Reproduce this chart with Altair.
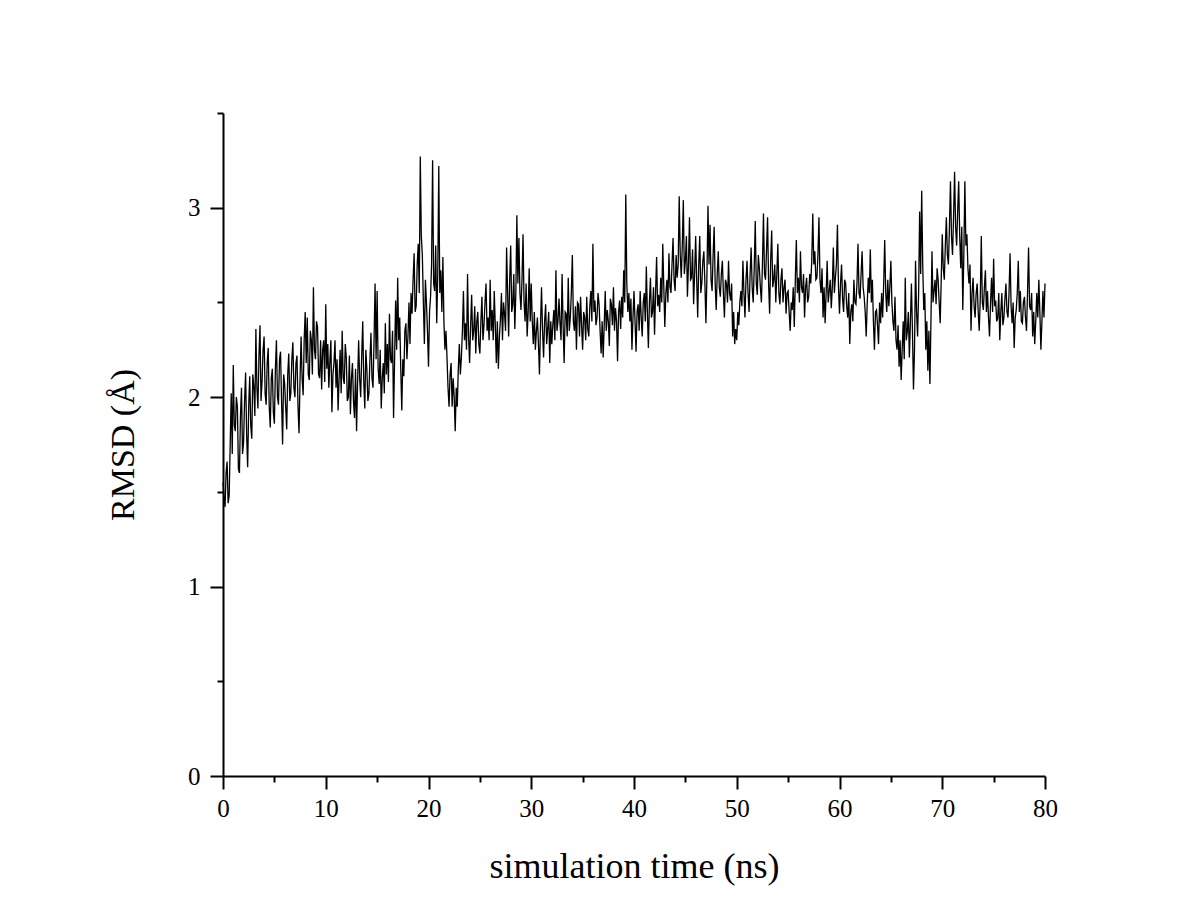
import altair as alt
import pandas as pd

# RMSD (Å), one value every 0.1 ns (one row = 1 ns)
STEP_NS = 0.1
rmsd_00_10 = [1.55, 1.47, 1.42, 1.60, 1.66, 1.44, 1.48, 1.75, 2.02, 1.70,
              2.17, 1.85, 1.82, 2.00, 1.95, 1.62, 1.60, 1.90, 2.05, 1.70,
              1.76, 1.98, 2.13, 1.80, 1.63, 1.95, 2.11, 1.85, 1.78, 2.12,
              2.06, 1.90, 2.36, 2.05, 1.94, 2.22, 2.38, 1.98, 2.08, 2.25,
              2.32, 2.02, 1.96, 2.18, 2.26, 1.95, 1.84, 2.10, 2.15, 1.92,
              1.86, 2.15, 2.30, 2.00, 1.96, 2.20, 2.24, 1.98, 1.75, 2.12,
              2.07, 1.95, 1.83, 2.12, 2.23, 1.98, 2.02, 2.20, 2.29, 2.05,
              2.00, 2.18, 2.22, 1.95, 1.81, 2.10, 2.32, 2.10, 2.01, 2.30,
              2.45, 2.18, 2.42, 2.12, 2.09, 2.35, 2.30, 2.12, 2.58, 2.25,
              2.20, 2.40, 2.37, 2.12, 2.10, 2.30, 2.04, 2.25, 2.30, 2.08]
rmsd_10_20 = [2.49, 2.15, 2.28, 2.05, 2.19, 2.30, 1.92, 2.12, 2.18, 2.30,
              2.05, 2.20, 1.93, 2.10, 2.25, 2.02, 2.35, 2.10, 2.07, 2.28,
              2.21, 1.98, 2.00, 2.22, 1.91, 2.10, 2.18, 1.98, 1.89, 2.15,
              1.82, 2.08, 2.30, 2.10, 2.00, 2.22, 2.40, 2.08, 1.94, 2.25,
              2.15, 1.98, 2.02, 2.20, 2.34, 2.10, 2.05, 2.30, 2.60, 2.20,
              2.56, 2.15, 2.07, 2.25, 1.94, 2.10, 2.18, 2.02, 2.39, 2.12,
              2.28, 2.08, 2.44, 2.20, 2.18, 2.35, 1.89, 2.20, 2.51, 2.25,
              2.63, 2.30, 2.42, 2.15, 1.93, 2.20, 2.11, 2.35, 2.39, 2.20,
              2.32, 2.50, 2.28, 2.55, 2.44, 2.62, 2.76, 2.45, 2.48, 2.70,
              2.81, 2.55, 3.27, 2.85, 2.75, 2.50, 2.28, 2.62, 2.50, 2.35]
rmsd_20_30 = [2.16, 2.45, 2.53, 2.70, 3.25, 2.60, 2.56, 2.80, 2.39, 2.65,
              3.22, 2.55, 2.67, 2.45, 2.74, 2.40, 2.25, 2.35, 2.21, 2.05,
              1.95, 2.12, 2.18, 1.95, 2.10, 2.00, 1.82, 2.05, 1.95, 2.15,
              2.28, 2.12, 2.21, 2.35, 2.56, 2.30, 2.39, 2.25, 2.65, 2.32,
              2.18, 2.38, 2.54, 2.30, 2.35, 2.48, 2.23, 2.40, 2.45, 2.28,
              2.23, 2.40, 2.53, 2.30, 2.38, 2.50, 2.60, 2.35, 2.42, 2.30,
              2.62, 2.35, 2.46, 2.30, 2.56, 2.38, 2.18, 2.40, 2.15, 2.32,
              2.41, 2.55, 2.30, 2.50, 2.44, 2.35, 2.79, 2.55, 2.32, 2.62,
              2.80, 2.45, 2.49, 2.65, 2.36, 2.55, 2.96, 2.60, 2.84, 2.55,
              2.46, 2.62, 2.86, 2.50, 2.40, 2.60, 2.32, 2.45, 2.68, 2.40]
rmsd_30_40 = [2.60, 2.40, 2.28, 2.45, 2.25, 2.35, 2.42, 2.28, 2.12, 2.38,
              2.58, 2.35, 2.21, 2.40, 2.49, 2.28, 2.36, 2.45, 2.18, 2.40,
              2.28, 2.38, 2.46, 2.30, 2.67, 2.35, 2.40, 2.52, 2.39, 2.30,
              2.65, 2.38, 2.18, 2.45, 2.44, 2.32, 2.63, 2.35, 2.42, 2.55,
              2.75, 2.40, 2.35, 2.48, 2.25, 2.50, 2.49, 2.32, 2.53, 2.38,
              2.25, 2.45, 2.42, 2.30, 2.53, 2.36, 2.32, 2.48, 2.56, 2.40,
              2.81, 2.45, 2.51, 2.38, 2.42, 2.55, 2.49, 2.35, 2.23, 2.40,
              2.21, 2.38, 2.56, 2.35, 2.46, 2.40, 2.27, 2.52, 2.49, 2.38,
              2.58, 2.35, 2.47, 2.40, 2.19, 2.45, 2.51, 2.36, 2.53, 2.42,
              2.67, 2.50, 3.07, 2.60, 2.45, 2.55, 2.40, 2.52, 2.25, 2.42]
rmsd_40_50 = [2.56, 2.40, 2.24, 2.45, 2.49, 2.35, 2.56, 2.42, 2.32, 2.50,
              2.55, 2.40, 2.69, 2.45, 2.26, 2.50, 2.63, 2.42, 2.45, 2.58,
              2.33, 2.55, 2.74, 2.48, 2.54, 2.45, 2.63, 2.50, 2.81, 2.58,
              2.37, 2.55, 2.62, 2.50, 2.76, 2.58, 2.55, 2.70, 2.84, 2.62,
              2.56, 2.75, 2.63, 2.70, 3.06, 2.75, 2.63, 2.80, 3.04, 2.65,
              2.72, 2.85, 2.53, 2.70, 2.95, 2.62, 2.63, 2.78, 2.49, 2.65,
              2.85, 2.62, 2.42, 2.70, 2.85, 2.55, 2.60, 2.72, 2.77, 2.60,
              2.39, 2.65, 3.01, 2.70, 2.91, 2.62, 2.56, 2.75, 2.90, 2.60,
              2.46, 2.65, 2.77, 2.58, 2.53, 2.65, 2.72, 2.55, 2.42, 2.62,
              2.60, 2.50, 2.72, 2.55, 2.51, 2.60, 2.32, 2.45, 2.28, 2.36]
rmsd_50_60 = [2.30, 2.45, 2.38, 2.50, 2.56, 2.48, 2.72, 2.55, 2.42, 2.62,
              2.72, 2.55, 2.45, 2.65, 2.79, 2.58, 2.50, 2.68, 2.93, 2.60,
              2.54, 2.75, 2.68, 2.58, 2.50, 2.70, 2.97, 2.65, 2.62, 2.78,
              2.95, 2.60, 2.44, 2.72, 2.88, 2.58, 2.62, 2.70, 2.50, 2.65,
              2.81, 2.55, 2.49, 2.62, 2.68, 2.50, 2.58, 2.62, 2.44, 2.55,
              2.56, 2.45, 2.35, 2.50, 2.46, 2.58, 2.37, 2.62, 2.83, 2.55,
              2.63, 2.50, 2.77, 2.58, 2.55, 2.65, 2.42, 2.58, 2.63, 2.50,
              2.53, 2.65, 2.60, 2.72, 2.97, 2.70, 2.77, 2.62, 2.63, 2.75,
              2.95, 2.62, 2.55, 2.68, 2.42, 2.58, 2.39, 2.55, 2.72, 2.50,
              2.56, 2.62, 2.47, 2.58, 2.79, 2.55, 2.63, 2.70, 2.91, 2.58]
rmsd_60_70 = [2.44, 2.60, 2.70, 2.52, 2.45, 2.62, 2.60, 2.48, 2.42, 2.55,
              2.28, 2.45, 2.49, 2.40, 2.62, 2.50, 2.49, 2.60, 2.81, 2.55,
              2.52, 2.65, 2.77, 2.58, 2.53, 2.45, 2.32, 2.50, 2.63, 2.55,
              2.78, 2.50, 2.62, 2.40, 2.25, 2.45, 2.46, 2.38, 2.28, 2.50,
              2.39, 2.55, 2.42, 2.60, 2.83, 2.55, 2.45, 2.62, 2.48, 2.58,
              2.72, 2.50, 2.40, 2.35, 2.53, 2.30, 2.25, 2.38, 2.16, 2.30,
              2.09, 2.25, 2.40, 2.20, 2.63, 2.30, 2.35, 2.45, 2.21, 2.40,
              2.60, 2.35, 2.04, 2.25, 2.72, 2.45, 2.32, 2.55, 2.98, 2.65,
              3.09, 2.70, 2.46, 2.55, 2.25, 2.40, 2.14, 2.35, 2.07, 2.40,
              2.77, 2.50, 2.56, 2.62, 2.49, 2.68, 2.62, 2.50, 2.39, 2.62]
rmsd_70_80 = [2.86, 2.68, 2.62, 2.80, 2.95, 2.75, 2.70, 2.90, 3.14, 2.85,
              2.75, 2.95, 3.19, 2.90, 2.80, 2.98, 3.14, 2.85, 2.68, 2.90,
              2.46, 2.75, 3.14, 2.80, 2.86, 2.68, 2.60, 2.70, 2.35, 2.55,
              2.63, 2.48, 2.42, 2.55, 2.60, 2.45, 2.35, 2.52, 2.85, 2.50,
              2.46, 2.58, 2.67, 2.45, 2.56, 2.42, 2.32, 2.50, 2.63, 2.45,
              2.73, 2.48, 2.51, 2.40, 2.42, 2.55, 2.30, 2.45, 2.55, 2.38,
              2.42, 2.52, 2.60, 2.45, 2.42, 2.55, 2.76, 2.48, 2.39, 2.50,
              2.26, 2.42, 2.46, 2.55, 2.72, 2.45, 2.56, 2.40, 2.39, 2.50,
              2.53, 2.42, 2.35, 2.55, 2.79, 2.48, 2.46, 2.55, 2.32, 2.45,
              2.28, 2.40, 2.55, 2.42, 2.62, 2.45, 2.25, 2.40, 2.56, 2.42,
              2.60]

x_major_ticks = [0, 10, 20, 30, 40, 50, 60, 70, 80]
x_minor_ticks = [5, 15, 25, 35, 45, 55, 65, 75]
y_major_ticks = [0, 1, 2, 3]
y_minor_ticks = [0.5, 1.5, 2.5, 3.5]

values = (rmsd_00_10 + rmsd_10_20 + rmsd_20_30 + rmsd_30_40 +
          rmsd_40_50 + rmsd_50_60 + rmsd_60_70 + rmsd_70_80)
times = [round(i * STEP_NS, 2) for i in range(len(values))]
df = pd.DataFrame({"time": times, "rmsd": values})

FONT = "Liberation Serif"
W, H = 822, 663
xscale = alt.Scale(domain=[0, 80], nice=False, zero=False)
yscale = alt.Scale(domain=[0, 3.5], nice=False, zero=False)

common = dict(tickColor="black", tickWidth=2, domainColor="black",
              domainWidth=2, grid=False)

base = alt.Chart(df)

line = base.mark_line(color="black", strokeWidth=1.3).encode(
    x=alt.X("time:Q", scale=xscale,
            axis=alt.Axis(values=x_major_ticks, format="d", orient="bottom",
                          title="simulation time (ns)", titleFont=FONT,
                          titleFontSize=36, titleFontWeight="normal",
                          titleColor="black", titleX=W / 2, titleY=101,
                          titleBaseline="alphabetic", titleAlign="center",
                          labelFont=FONT, labelFontSize=25, labelColor="black",
                          labelPadding=7, labelFlush=False, tickSize=13,
                          **common)),
    y=alt.Y("rmsd:Q", scale=yscale,
            axis=alt.Axis(values=y_major_ticks, format="d", orient="left",
                          title="RMSD (Å)", titleFont=FONT, titleFontSize=34,
                          titleFontWeight="normal", titleColor="black",
                          titleX=-90, titleY=H / 2, titleAngle=270,
                          titleBaseline="alphabetic", titleAlign="center",
                          labelFont=FONT, labelFontSize=25, labelColor="black",
                          labelPadding=10, labelFlush=False, tickSize=13,
                          **common)),
)

minor = base.mark_line(opacity=0).encode(
    x=alt.X("time:Q", scale=xscale,
            axis=alt.Axis(values=x_minor_ticks, orient="bottom", labels=False,
                          title="", domain=False, tickSize=6,
                          tickColor="black", tickWidth=2, grid=False)),
    y=alt.Y("rmsd:Q", scale=yscale,
            axis=alt.Axis(values=y_minor_ticks, orient="left", labels=False,
                          title="", domain=False, tickSize=6,
                          tickColor="black", tickWidth=2, grid=False)),
)

chart = (
    alt.layer(line, minor)
    .resolve_axis(x="independent", y="independent")
    .properties(width=W, height=H,
                padding={"left": 215, "top": 105, "right": 140, "bottom": 130},
                autosize=alt.AutoSizeParams(type="none"),
                background="white")
    .configure_view(strokeWidth=0)
)

chart.save("out.html", embed_options={"renderer": "svg", "actions": False})
